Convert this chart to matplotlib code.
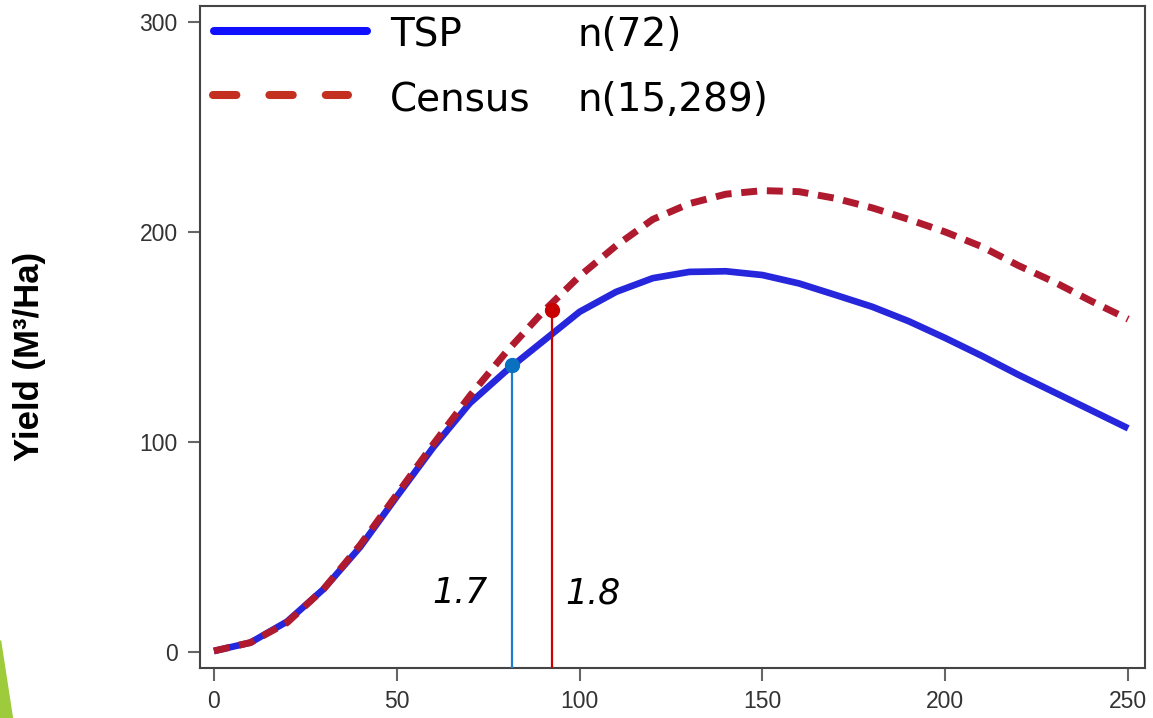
import matplotlib
matplotlib.use('Agg')
import matplotlib.pyplot as plt
from matplotlib.patches import Polygon
import numpy as np

# stand age (years) and yield (M3/Ha)
age = [0, 10, 20, 30, 40, 50, 60, 70, 80, 90, 100, 110, 120, 130, 140, 150,
       160, 170, 180, 190, 200, 210, 220, 230, 240, 250]
tsp_yield = [0.5, 4.5, 14.5, 30, 50, 74, 97.5, 118.5, 134, 148, 162, 171.5, 178,
             181, 181.3, 179.5, 175.5, 170, 164.4, 157.5, 149.5, 141, 132, 123.5,
             115, 106.5]
census_yield = [0.5, 4.5, 14, 30, 51, 75, 99, 122, 143, 162, 179, 193.5, 206,
                213.5, 218, 219.7, 219.2, 216, 211.5, 206, 200, 193, 184, 176,
                167, 158.5]

# culmination points (age, yield) and their labels
tsp_peak = (81.6, 136.7)
census_peak = (92.5, 163.0)
tsp_label = '1.7'
census_label = '1.8'

series_names = ['TSP', 'Census']
series_n = ['n(72)', 'n(15,289)']

x_ticks = [0, 50, 100, 150, 200, 250]
y_ticks = [0, 100, 200, 300]

blue = '#2626dc'
red = '#b01a2e'
my_dpi = 100

fig = plt.figure(figsize=(1153/my_dpi, 718/my_dpi), dpi=my_dpi)
ax = fig.add_axes([200/1153, 1-668/718, 945/1153, 662/718])

ax.plot(age, tsp_yield, color=blue, linewidth=4.8, solid_capstyle='butt', zorder=3)
ax.plot(age, census_yield, color=red, linewidth=5.0, dashes=(2.3, 1.4),
        dash_capstyle='butt', zorder=4)

ymin = -7.6
ax.vlines(tsp_peak[0], ymin, tsp_peak[1], color='#1a7fd0', linewidth=1.6, zorder=5)
ax.vlines(census_peak[0], ymin, census_peak[1], color='#cc0000', linewidth=1.6, zorder=5)
ax.plot(*tsp_peak, 'o', color='#0a70c0', markersize=10, zorder=6)
ax.plot(*census_peak, 'o', color='#c80000', markersize=10, zorder=6)

ax.text(67.3, 28, tsp_label, fontsize=25, style='italic', family='DejaVu Sans',
        ha='center', va='center')
ax.text(103.7, 28, census_label, fontsize=25, style='italic', family='DejaVu Sans',
        ha='center', va='center')

ax.set_xlim(-3.8, 254.6)
ax.set_ylim(ymin, 307.6)
ax.set_xticks(x_ticks)
ax.set_yticks(y_ticks)
ax.tick_params(axis='both', length=9, width=1.5, color='#666666',
               labelsize=16.5, labelcolor='#333333', pad=7)
for lab in ax.get_xticklabels() + ax.get_yticklabels():
    lab.set_family('Liberation Sans')
for s in ax.spines.values():
    s.set_color('#444444')
    s.set_linewidth(1.5)

# legend drawn by hand: line, name, count
ax.plot([0.0148, 0.1767], [0.962, 0.962], transform=ax.transAxes, color='#1010ff',
        linewidth=5.8, solid_capstyle='round', clip_on=False, zorder=7)
ax.plot([0.0138, 0.1566], [0.8656, 0.8656], transform=ax.transAxes, color='#c33020',
        linewidth=5.8, dashes=(2.9, 4.1), dash_capstyle='round', clip_on=False, zorder=7)
row_y = [0.956, 0.858]
for name, n, yy in zip(series_names, series_n, row_y):
    ax.text(0.201, yy, name, transform=ax.transAxes, fontsize=28, family='DejaVu Sans',
            ha='left', va='center')
    ax.text(0.399, yy, n, transform=ax.transAxes, fontsize=28, family='DejaVu Sans',
            ha='left', va='center')

fig.text(30/1153, 1-356/718, 'Yield (M³/Ha)', rotation=90, fontsize=25,
         fontweight='bold', family='Liberation Sans', ha='center', va='center')

# slide decoration in the lower-left corner
fig.patches.append(Polygon([[0, 1-640/718], [0, 0], [12/1153, 0]], closed=True,
                           transform=fig.transFigure, color='#9dcb3b', zorder=0))

plt.savefig('out.png', dpi=my_dpi)
plt.close()
